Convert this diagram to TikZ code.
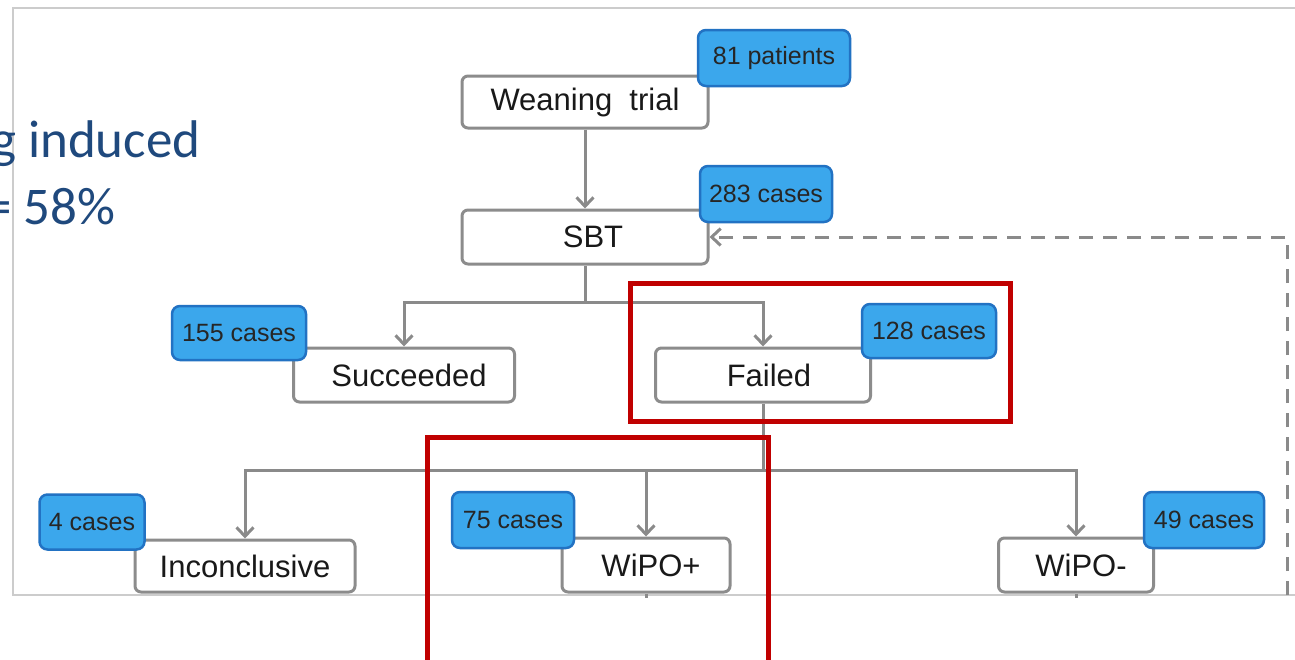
\documentclass[tikz,border=0pt]{standalone}
\usepackage{fontspec}
\setmainfont{Liberation Sans}
\newfontfamily\slidefont{Carlito}
\usetikzlibrary{arrows.meta}
\definecolor{linegray}{HTML}{8A8A8A}
\definecolor{boxgray}{HTML}{8C8C8C}
\definecolor{badgefill}{HTML}{3BA7EC}
\definecolor{badgeline}{HTML}{2272C3}
\definecolor{redbox}{HTML}{C00000}
\definecolor{slideblue}{HTML}{1F497D}
\definecolor{framegray}{HTML}{CCCCCC}
\tikzset{
  stepbox/.style={draw=boxgray, line width=3pt, rounded corners=6pt, fill=white,
    inner sep=0pt, font=\fontsize{31}{36}\selectfont, text=black!90},
  badge/.style={draw=badgeline, line width=2.5pt, rounded corners=8pt, fill=badgefill,
    inner sep=0pt, font=\fontsize{25}{29}\selectfont, text=black!85},
  conn/.style={draw=linegray, line width=3pt},
  arr/.style={conn, -{Straight Barb[length=9pt,width=17pt,line width=3pt]}},
  dasharr/.style={draw=linegray, line width=3pt, dash pattern=on 14pt off 10pt,
    -{Straight Barb[length=9pt,width=17pt,line width=3pt]}},
  redframe/.style={draw=redbox, line width=5pt},
  slidetext/.style={anchor=base west, inner sep=0pt, text=slideblue,
    font=\slidefont\fontsize{53}{62}\selectfont}
}
\begin{document}
\begin{tikzpicture}[x=1pt,y=-1pt]
\useasboundingbox (0,0) rectangle (1295,659);
\clip (0,0) rectangle (1295,659);
\fill[white] (0,0) rectangle (1295,659);
% embedded figure frame
\draw[framegray, line width=1.5pt] (1300,8) -- (13,8) -- (13,595) -- (1300,595);
% slide text (clipped at the left, as in the reference)
\node[slidetext] (t1) at (-9,157) {g induced};
\node[slidetext] (t2) at (-15,224) {= 58\%};
% boxes
\node[stepbox, minimum width=246pt, minimum height=52pt] (wt) at (585,102) {\raisebox{-2pt}{Weaning\ \ trial}};
\node[stepbox, minimum width=246pt, minimum height=54pt] (sbt) at (585,237) {\hspace{16pt}SBT};
\node[stepbox, minimum width=221pt, minimum height=54pt] (succ) at (404,375) {\hspace{10pt}Succeeded};
\node[stepbox, minimum width=215pt, minimum height=54pt] (fail) at (763,375) {\hspace{12pt}Failed};
\node[stepbox, minimum width=220pt, minimum height=52pt] (inc) at (245,566) {Inconclusive};
\node[stepbox, minimum width=168pt, minimum height=54pt] (wpp) at (646,565) {\hspace{10pt}WiPO+};
\node[stepbox, minimum width=155pt, minimum height=54pt] (wpm) at (1076,565) {\hspace{10pt}WiPO-};
% junctions
\coordinate (j1) at (585,302);
\coordinate (j2) at (763,470);
\coordinate (d1) at (1287,595);
% connectors
\draw[arr] (wt) -- (sbt);
\draw[conn] (sbt) -- (j1);
\draw[arr] (j1) -| (succ);
\draw[arr] (j1) -| (fail);
\draw[conn] (fail) -- (j2);
\draw[arr] (j2) -| (inc);
\draw[arr] (j2) -| (wpp);
\draw[arr] (j2) -| (wpm);
\draw[dasharr] (d1) |- (sbt);
\draw[conn] (wpp.south) -- ++(0,4);
\draw[conn] (wpm.south) -- ++(0,4);
% badges
\node[badge, minimum width=152pt, minimum height=56pt] (b81) at (774,58) {81 patients};
\node[badge, minimum width=132pt, minimum height=56pt] (b283) at (766,194) {283 cases};
\node[badge, minimum width=134pt, minimum height=54pt] (b155) at (239,333) {155 cases};
\node[badge, minimum width=134pt, minimum height=54pt] (b128) at (929,331) {128 cases};
\node[badge, minimum width=105pt, minimum height=55pt] (b4) at (92,522) {4 cases};
\node[badge, minimum width=122pt, minimum height=56pt] (b75) at (513,520) {75 cases};
\node[badge, minimum width=120pt, minimum height=56pt] (b49) at (1204,520) {49 cases};
% red highlight frames
\draw[redframe] (630,283) rectangle (1010,421);
\draw[redframe] (427,437) rectangle (768,680);
\end{tikzpicture}
\end{document}
